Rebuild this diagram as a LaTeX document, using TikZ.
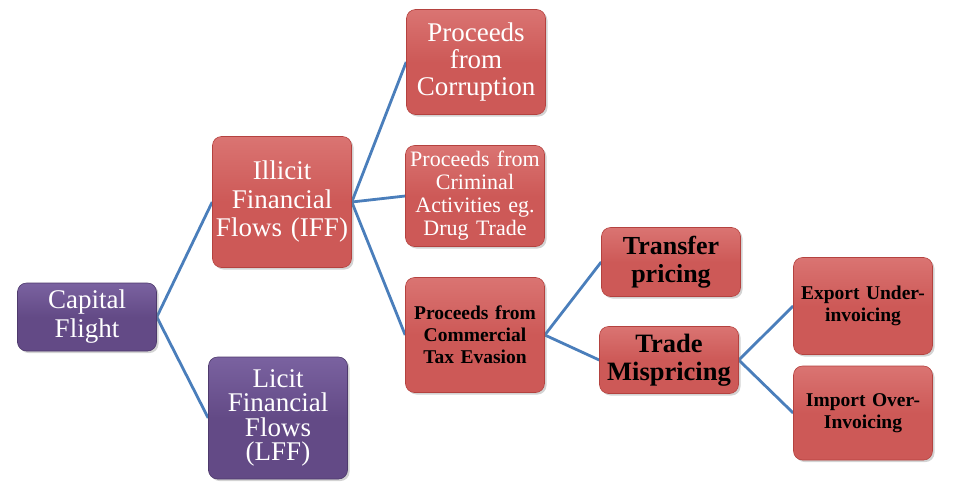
\documentclass[tikz,border=0pt]{standalone}
\usepackage{fontspec}
\setmainfont{Liberation Serif}
\usetikzlibrary{shadows,backgrounds}

\definecolor{boxred}{HTML}{CD5957}
\definecolor{boxredtop}{HTML}{DA7472}
\definecolor{boxredline}{HTML}{B4423F}
\definecolor{boxpurple}{HTML}{634A86}
\definecolor{boxpurpletop}{HTML}{7A62A0}
\definecolor{boxpurpleline}{HTML}{4E3A6C}
\definecolor{linkblue}{HTML}{4A7EBB}

\tikzset{
  flowbox/.style={draw=boxredline, line width=0.6pt, rounded corners=9pt,
    top color=boxredtop, bottom color=boxred, middle color=boxred,
    minimum width=139pt, inner sep=0pt, align=center, text width=138pt,
    text=white, drop shadow={opacity=0.35, shadow xshift=2pt, shadow yshift=-2pt}},
  rootbox/.style={flowbox, draw=boxpurpleline, top color=boxpurpletop,
    bottom color=boxpurple, middle color=boxpurple},
  darktext/.style={text=black},
  link/.style={draw=linkblue, line width=2.8pt}
}

\begin{document}
\begin{tikzpicture}[x=1pt,y=-1pt]
\useasboundingbox (0,0) rectangle (964,496);
\node[rootbox, minimum height=68pt, font=\fontsize{27}{29}\selectfont] (cf) at (87,317) {Capital\\Flight};
\node[flowbox, minimum height=131pt, font=\fontsize{27}{28.5}\selectfont] (iff) at (282,202) {Illicit\\Financial\\Flows (IFF)};
\node[rootbox, minimum height=122pt, font=\fontsize{27}{24.5}\selectfont] (lff) at (278,418) {Licit\\Financial\\Flows\\(LFF)};
\node[flowbox, minimum height=105pt, font=\fontsize{27}{27}\selectfont] (corr) at (476,62) {Proceeds\\from\\Corruption};
\node[flowbox, minimum height=101pt, font=\fontsize{22}{23}\selectfont] (crim) at (475,196) {Proceeds from\\Criminal\\Activities eg.\\Drug Trade};
\node[flowbox, darktext, minimum height=115pt, font=\bfseries\fontsize{19.5}{22}\selectfont] (tax) at (475,335) {Proceeds from\\Commercial\\Tax Evasion};
\node[flowbox, darktext, minimum height=69pt, font=\bfseries\fontsize{26}{27.5}\selectfont] (tp) at (671,262) {Transfer\\pricing};
\node[flowbox, darktext, minimum height=67pt, font=\bfseries\fontsize{26.5}{27.5}\selectfont] (tm) at (669,360) {Trade\\Mispricing};
\node[flowbox, darktext, minimum height=97pt, font=\bfseries\fontsize{19.5}{22}\selectfont] (exp) at (863,306) {Export Under-\\invoicing};
\node[flowbox, darktext, minimum height=94pt, font=\bfseries\fontsize{19.5}{22}\selectfont] (imp) at (863,413) {Import Over-\\Invoicing};
% connectors
\begin{scope}[on background layer]
\draw[link] (cf.east) -- (iff.west);
\draw[link] (cf.east) -- (lff.west);
\draw[link] (iff.east) -- (corr.west);
\draw[link] (iff.east) -- (crim.west);
\draw[link] (iff.east) -- (tax.west);
\draw[link] (tax.east) -- (tp.west);
\draw[link] (tax.east) -- (tm.west);
\draw[link] (tm.east) -- (exp.west);
\draw[link] (tm.east) -- (imp.west);
\end{scope}
\end{tikzpicture}
\end{document}
